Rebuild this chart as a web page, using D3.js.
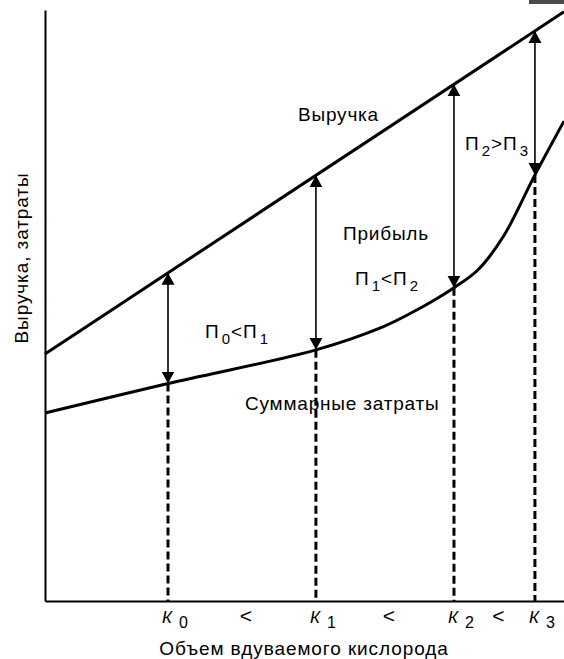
<!DOCTYPE html>
<html>
<head>
<meta charset="utf-8">
<script src="https://cdn.jsdelivr.net/npm/d3@7"></script>
<style>
  body { margin: 0; background: #fff; }
  text { font-family: "Liberation Sans", Arial, sans-serif; fill: #000; }
</style>
</head>
<body>
<svg id="chart"></svg>
<script>
// oxygen volume points K0..K3 (x, 0..100)
const kSubs = ['0', '1', '2', '3'];
const kValues = [23.7, 52.2, 78.8, 94.4];

// revenue is a straight line
const revenueX = [0, 100];
const revenueY = [41.8, 99.7];

// total costs curve
const costX = [0, 23.7, 52.2, 65.1, 70.9, 74.8, 78.8, 83.4, 88.4, 94.4, 100];
const costY = [31.8, 36.8, 42.5, 46.4, 48.9, 50.8, 53.0, 56.0, 61.8, 72.1, 81.2];

// profit labels between the arrows
const profitLabels = [
  { a: '0', op: '<', b: '1' },
  { a: '1', op: '<', b: '2' },
  { a: '2', op: '>', b: '3' }
];

const width = 564, height = 659;

const svg = d3.select('#chart')
  .attr('width', width)
  .attr('height', height);

const x = d3.scaleLinear().domain([0, 100]).range([45, 564]);
const y = d3.scaleLinear().domain([0, 100]).range([601, 10]);

const revenueAt = d3.scaleLinear().domain(revenueX).range(revenueY);
const costAt = k => costY[costX.indexOf(k)];

// arrow head marker
const defs = svg.append('defs');
defs.append('marker')
  .attr('id', 'head')
  .attr('viewBox', '0 -7 12 14')
  .attr('markerUnits', 'userSpaceOnUse')
  .attr('markerWidth', 12)
  .attr('markerHeight', 14)
  .attr('refX', 12)
  .attr('refY', 0)
  .attr('orient', 'auto-start-reverse')
  .append('path')
    .attr('d', 'M0,-6.5L12,0L0,6.5Z')
    .attr('fill', '#000');

// scan artifact in the corner
svg.append('rect')
  .attr('x', 529).attr('y', 0)
  .attr('width', 35).attr('height', 4)
  .attr('fill', '#4a4a4a');

// axes without ticks
svg.append('g')
  .attr('transform', `translate(0,${y(0)})`)
  .call(d3.axisBottom(x).tickValues([]).tickSizeOuter(0))
  .select('.domain').attr('stroke-width', 2);

svg.append('g')
  .attr('transform', `translate(${x(0)},0)`)
  .call(d3.axisLeft(y).tickValues([]).tickSizeOuter(0))
  .select('.domain').attr('stroke-width', 2);

// dashed drop lines
svg.selectAll('line.drop')
  .data(kValues)
  .enter().append('line')
    .attr('class', 'drop')
    .attr('x1', d => x(d)).attr('x2', d => x(d))
    .attr('y1', d => y(costAt(d)))
    .attr('y2', y(0))
    .attr('stroke', '#000')
    .attr('stroke-width', 3)
    .attr('stroke-dasharray', '8,4');

// revenue line
svg.append('path')
  .datum(d3.zip(revenueX, revenueY))
  .attr('d', d3.line().x(d => x(d[0])).y(d => y(d[1])))
  .attr('fill', 'none')
  .attr('stroke', '#000')
  .attr('stroke-width', 3);

// costs curve
svg.append('path')
  .datum(d3.zip(costX, costY))
  .attr('d', d3.line().curve(d3.curveCatmullRom.alpha(0.5)).x(d => x(d[0])).y(d => y(d[1])))
  .attr('fill', 'none')
  .attr('stroke', '#000')
  .attr('stroke-width', 3);

// profit arrows
svg.selectAll('line.profit')
  .data(kValues)
  .enter().append('line')
    .attr('class', 'profit')
    .attr('x1', d => x(d)).attr('x2', d => x(d))
    .attr('y1', d => y(costAt(d)))
    .attr('y2', d => y(revenueAt(d)))
    .attr('stroke', '#000')
    .attr('stroke-width', 1.6)
    .attr('marker-start', 'url(#head)')
    .attr('marker-end', 'url(#head)');

// plain labels
const labels = [
  { t: 'Выручка', x: 298, y: 121 },
  { t: 'Прибыль', x: 343, y: 240 },
  { t: 'Суммарные затраты', x: 245, y: 410 }
];
svg.selectAll('text.lab')
  .data(labels)
  .enter().append('text')
    .attr('class', 'lab')
    .attr('x', d => d.x).attr('y', d => d.y)
    .attr('font-size', 19)
    .attr('letter-spacing', 0.8)
    .text(d => d.t);

// П labels with subscripts
const profitPos = [[205, 338], [355, 285], [465, 150]];
profitLabels.forEach((p, i) => {
  const t = svg.append('text')
    .attr('x', profitPos[i][0]).attr('y', profitPos[i][1])
    .attr('font-size', 19);
  t.append('tspan').text('П');
  t.append('tspan').attr('dx', 3).attr('dy', 6).attr('font-size', 15).text(p.a);
  t.append('tspan').attr('dx', 1).attr('dy', -6).text(p.op);
  t.append('tspan').attr('dx', 1).text('П');
  t.append('tspan').attr('dx', 3).attr('dy', 6).attr('font-size', 15).text(p.b);
});

// K labels under the x axis
const kl = svg.selectAll('text.k')
  .data(kValues)
  .enter().append('text')
    .attr('class', 'k')
    .attr('x', d => x(d) - 6)
    .attr('y', 623)
    .attr('font-size', 17);
kl.append('tspan').attr('font-style', 'italic').text('К');
kl.append('tspan').attr('dx', 7).attr('dy', 5).attr('font-size', 16).text((d, i) => kSubs[i]);

// "<" between the K labels
const between = d3.pairs(kValues).map(p => (x(p[0]) + x(p[1])) / 2 + 4);
svg.selectAll('text.lt')
  .data(between)
  .enter().append('text')
    .attr('class', 'lt')
    .attr('x', d => d).attr('y', 623)
    .attr('text-anchor', 'middle')
    .attr('font-size', 21)
    .text('<');

// axis titles
svg.append('text')
  .attr('x', 304).attr('y', 655)
  .attr('text-anchor', 'middle')
  .attr('font-size', 19)
  .attr('letter-spacing', 0.9)
  .text('Объем вдуваемого кислорода');

svg.append('text')
  .attr('transform', 'translate(28,258) rotate(-90)')
  .attr('text-anchor', 'middle')
  .attr('font-size', 19)
  .attr('letter-spacing', 0.9)
  .text('Выручка, затраты');
</script>
</body>
</html>
